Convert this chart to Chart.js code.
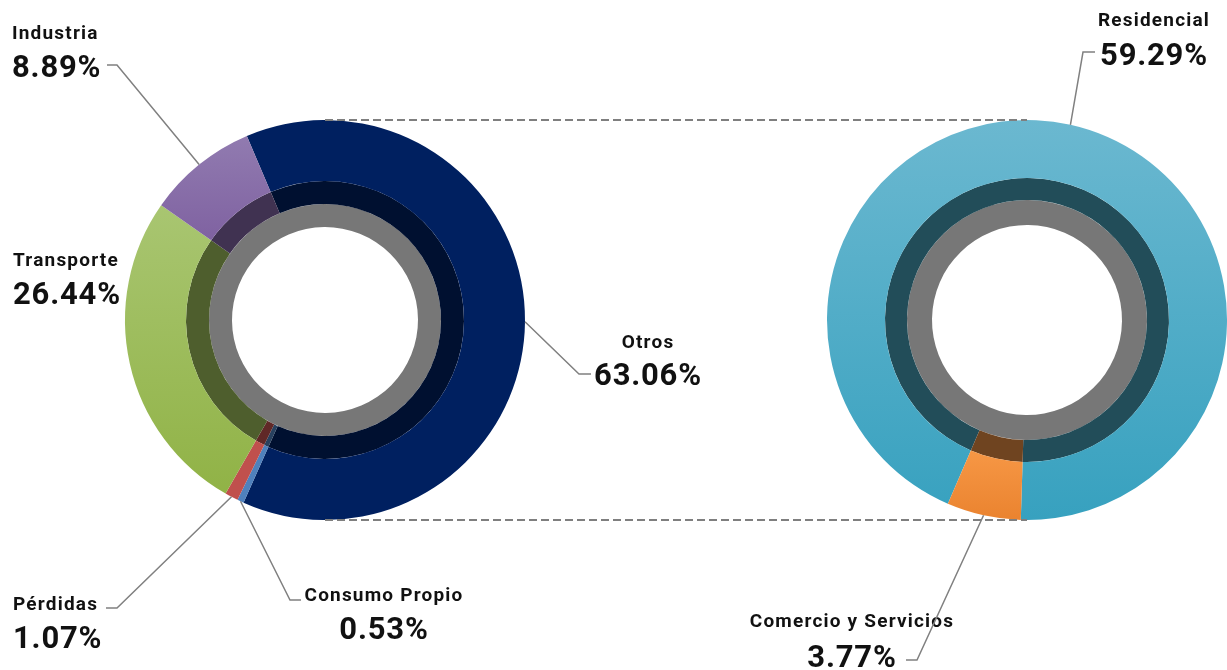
<!DOCTYPE html>
<html lang="es">
<head>
<meta charset="utf-8">
<title>Consumo final por sector</title>
<script src="https://cdn.jsdelivr.net/npm/chart.js@4.4.1/dist/chart.umd.min.js"></script>
<style>
  html, body { margin: 0; padding: 0; background: #fff; }
  #wrap { position: relative; width: 1227px; height: 670px; overflow: hidden; }
  #wrap canvas { position: absolute; left: 0; top: 0; }
</style>
</head>
<body>
<div id="wrap">
  <canvas id="graficoSectores" width="1227" height="670"></canvas>
  <canvas id="graficoOtros" width="1227" height="670"></canvas>
</div>
<script>
// participación por sector (%)
const sectores = ['Otros', 'Consumo Propio', 'Pérdidas', 'Transporte', 'Industria'];
const participacion = [63.06, 0.53, 1.07, 26.44, 8.89];

// desglose de "Otros" (%)
const subsectores = ['Residencial', 'Comercio y Servicios'];
const participacionOtros = [59.29, 3.77];

// colores; grad = [inicio, fin (fracción del alto), color arriba, color abajo]
const estiloSectores = [
  { color: '#002060' },
  { color: '#4f81bd' },
  { color: '#c0504d' },
  { color: '#9bbb59', grad: [0.2, 0.95, '#a9c672', '#90b245'] },
  { color: '#8064a2', grad: [0.04, 0.32, '#917bb0', '#7e60a0'] }
];
const estiloOtros = [
  { color: '#4bacc6', grad: [0, 1, '#6bb8d0', '#37a1bf'] },
  { color: '#f79646', grad: [0.82, 1, '#f79846', '#ea832f'] }
];

// posición de rótulos y quiebre de las líneas guía
const rotulos = {
  'Otros':                { x: 648,  y: 348, yv: 385, align: 'center', codo: [579, 374], fin: [591, 374] },
  'Consumo Propio':       { x: 384,  y: 601, yv: 639, align: 'center', codo: [290, 600], fin: [301, 600] },
  'Pérdidas':             { x: 13,   y: 610, yv: 648, align: 'left',   codo: [117, 608], fin: [106, 608] },
  'Transporte':           { x: 13,   y: 266, yv: 304, align: 'left' },
  'Industria':            { x: 12,   y: 39,  yv: 77,  align: 'left',   codo: [117, 65],  fin: [107, 65] },
  'Residencial':          { x: 1154, y: 26,  yv: 65,  align: 'center', codo: [1083, 52], fin: [1095, 52] },
  'Comercio y Servicios': { x: 852,  y: 627, yv: 667, align: 'center', codo: [917, 660], fin: [906, 660] }
};

function oscurecer(hex, f) {
  const n = parseInt(hex.slice(1), 16);
  const r = Math.round((n >> 16 & 255) * f);
  const g = Math.round((n >> 8 & 255) * f);
  const b = Math.round((n & 255) * f);
  return 'rgb(' + r + ',' + g + ',' + b + ')';
}

function relleno(estilos) {
  return function (c) {
    const e = estilos[c.dataIndex];
    const area = c.chart.chartArea;
    if (!e.grad || !area) return e.color;
    const g = c.chart.ctx.createLinearGradient(0, area.top + e.grad[0] * area.height, 0, area.top + e.grad[1] * area.height);
    g.addColorStop(0, e.grad[2]);
    g.addColorStop(1, e.grad[3]);
    return g;
  };
}

function anillos(datos, estilos, pesos, factor) {
  return [
    { data: datos, weight: pesos[0], backgroundColor: relleno(estilos), borderWidth: 0 },
    { data: datos, weight: pesos[1], backgroundColor: estilos.map(e => oscurecer(e.color, factor)), borderWidth: 0 },
    { data: [100], weight: pesos[2], backgroundColor: '#777777', borderWidth: 0 }
  ];
}

function opciones(padding, rotation, cutout) {
  return {
    responsive: false,
    animation: false,
    events: [],
    rotation: rotation,
    cutout: cutout,
    layout: { padding: padding },
    plugins: { legend: { display: false }, tooltip: { enabled: false } }
  };
}

const graficoSectores = new Chart(document.getElementById('graficoSectores'), {
  type: 'doughnut',
  data: { labels: sectores, datasets: anillos(participacion, estiloSectores, [61, 23, 23], 0.5) },
  options: opciones({ left: 125, top: 120, right: 702, bottom: 150 }, -23, '46.5%')
});

function escribir(ctx, nombre, valor) {
  const r = rotulos[nombre];
  ctx.fillStyle = '#111111';
  ctx.textAlign = r.align;
  ctx.textBaseline = 'alphabetic';
  ctx.font = 'bold 19px Roboto';
  ctx.letterSpacing = '1.2px';
  ctx.fillText(nombre, r.x, r.y);
  ctx.font = 'bold 31px Roboto';
  ctx.letterSpacing = '0.8px';
  ctx.fillText(valor.toFixed(2) + '%', r.x, r.yv);
}

function guia(ctx, arco, r) {
  if (!r.codo) return;
  const a = (arco.startAngle + arco.endAngle) / 2;
  ctx.beginPath();
  ctx.moveTo(arco.x + Math.cos(a) * arco.outerRadius, arco.y + Math.sin(a) * arco.outerRadius);
  ctx.lineTo(r.codo[0], r.codo[1]);
  ctx.lineTo(r.fin[0], r.fin[1]);
  ctx.stroke();
}

// líneas punteadas, guías y rótulos de ambos anillos
const rotulado = {
  id: 'rotulado',
  afterDraw(chart) {
    const ctx = chart.ctx;
    const izq = graficoSectores.getDatasetMeta(0).data;
    const der = chart.getDatasetMeta(0).data;
    const a = izq[0], b = der[0];
    ctx.save();
    ctx.strokeStyle = '#7f7f7f';
    ctx.lineWidth = 2;
    ctx.setLineDash([8, 4]);
    ctx.beginPath();
    ctx.moveTo(a.x, a.y - a.outerRadius);
    ctx.lineTo(b.x, b.y - b.outerRadius);
    ctx.moveTo(a.x, a.y + a.outerRadius);
    ctx.lineTo(b.x, b.y + b.outerRadius);
    ctx.stroke();

    sectores.forEach((s, i) => escribir(ctx, s, participacion[i]));
    subsectores.forEach((s, i) => escribir(ctx, s, participacionOtros[i]));

    ctx.setLineDash([]);
    ctx.lineWidth = 1.5;
    ctx.strokeStyle = '#808080';
    sectores.forEach((s, i) => guia(ctx, izq[i], rotulos[s]));
    subsectores.forEach((s, i) => guia(ctx, der[i], rotulos[s]));
    ctx.restore();
  }
};

const graficoOtros = new Chart(document.getElementById('graficoOtros'), {
  type: 'doughnut',
  data: { labels: subsectores, datasets: anillos(participacionOtros, estiloOtros, [58, 22, 25], 0.45) },
  options: opciones({ left: 827, top: 120, right: 0, bottom: 150 }, -156.7, '47.5%'),
  plugins: [rotulado]
});
</script>
</body>
</html>
